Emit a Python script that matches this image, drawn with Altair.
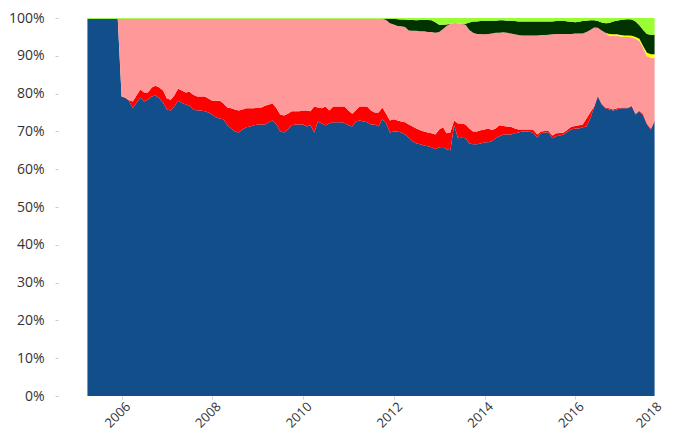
import altair as alt
import pandas as pd

# Monthly dates, April 2005 .. October 2017
months = [d.strftime("%Y-%m-%dT00:00:00") for d in pd.date_range("2005-04-01", "2017-10-01", freq="MS")]

series = ["A", "B", "C", "D", "E", "F"]
colors = ["#124E89", "#FF0000", "#FF9999", "#FFFF00", "#003300", "#99FF33"]

# Cumulative tops (in %)
blue_top = [99.8, 99.8, 99.8, 99.8, 99.8, 99.8, 99.8, 99.8, 99.8,
    79.2, 78.9, 78.1, 76.1, 77.6, 78.9, 77.9, 78.4, 79.2, 79.5,
    78.7, 77.6, 75.8, 75.5, 76.6, 78.1, 77.6, 77.1, 76.8, 75.8,
    75.5, 75.5, 75.3, 75.0, 74.5, 73.7, 73.4, 73.2, 71.6, 70.8,
    70.0, 69.7, 70.5, 71.1, 71.3, 71.6, 71.8, 71.8, 71.8, 72.4,
    72.9, 71.8, 70.0, 69.7, 70.5, 71.6, 71.8, 71.8, 71.8, 71.3,
    71.6, 69.7, 72.6, 72.1, 71.6, 72.1, 72.4, 72.4, 72.4, 72.2,
    71.6, 71.3, 72.6, 72.9, 72.6, 72.4, 71.8, 71.8, 71.3, 73.2,
    72.1, 69.7, 70.0, 70.0, 69.7, 69.2, 68.4, 67.4, 66.8, 66.6,
    66.3, 66.1, 65.8, 65.3, 65.8, 65.9, 65.3, 65.0, 71.6, 68.2,
    68.3, 68.2, 66.8, 66.6, 66.6, 66.8, 67.1, 67.1, 67.4, 68.2,
    68.7, 69.2, 69.2, 69.2, 69.5, 69.7, 70.0, 70.0, 69.9, 69.5,
    68.4, 69.5, 69.7, 69.7, 68.2, 68.7, 68.9, 69.2, 70.0, 70.5,
    70.8, 70.8, 71.1, 71.3, 73.4, 76.3, 79.2, 77.1, 76.1, 75.8,
    75.5, 75.8, 76.1, 76.1, 76.1, 76.6, 74.5, 75.3, 74.2, 71.8,
    70.5, 72.6]

red_top = [99.8, 99.8, 99.8, 99.8, 99.8, 99.8, 99.8, 99.8, 99.8,
    79.2, 78.9, 78.3, 77.9, 79.5, 81.1, 80.3, 80.3, 81.6, 82.1,
    81.6, 80.8, 78.7, 78.4, 79.5, 81.3, 80.8, 80.3, 80.5, 79.7,
    79.2, 79.2, 79.2, 78.7, 78.1, 78.1, 78.1, 77.4, 76.3, 76.1,
    75.8, 75.5, 75.8, 76.1, 76.1, 76.1, 76.3, 76.3, 76.8, 77.1,
    77.4, 76.1, 74.5, 74.2, 74.7, 75.3, 75.3, 75.3, 75.5, 75.5,
    75.3, 76.6, 76.3, 76.1, 76.6, 75.5, 76.6, 76.6, 76.6, 76.6,
    75.5, 74.7, 75.5, 76.6, 76.6, 76.6, 75.5, 75.0, 75.0, 76.3,
    74.7, 72.9, 73.2, 72.9, 72.6, 72.4, 71.8, 71.3, 70.8, 70.3,
    70.0, 69.7, 69.5, 69.2, 70.5, 71.1, 69.5, 69.7, 72.9, 72.1,
    72.1, 71.8, 70.8, 70.0, 70.0, 70.3, 70.5, 70.8, 70.4, 70.8,
    71.6, 71.4, 71.3, 71.2, 70.8, 70.5, 70.5, 70.5, 70.5, 70.3,
    69.2, 70.0, 70.1, 70.1, 68.9, 69.5, 69.6, 69.7, 70.5, 71.2,
    71.4, 71.6, 71.8, 73.4, 75.0, 76.6, 79.5, 77.4, 76.3, 76.1,
    75.8, 76.1, 76.3, 76.3, 76.3, 76.8, 74.7, 75.5, 74.6, 72.1,
    70.8, 72.9]

pink_top = [99.8] * 79 + [
    99.5, 98.6, 98.3, 97.9, 97.8, 97.6, 96.7, 96.6, 96.6, 96.5,
    96.5, 96.3, 96.3, 96.1, 96.3, 97.1, 97.9, 98.5, 98.7, 98.6,
    98.5, 98.2, 96.8, 96.1, 95.8, 95.8, 95.7, 95.8, 95.9, 96.1,
    96.1, 96.2, 96.1, 95.9, 95.7, 95.5, 95.4, 95.4, 95.4, 95.4,
    95.4, 95.5, 95.5, 95.6, 95.7, 95.8, 95.8, 95.8, 95.8, 95.8,
    95.9, 95.9, 95.9, 96.3, 96.8, 97.5, 97.4, 96.7, 96.1, 95.3,
    95.3, 95.3, 95.1, 95.0, 95.0, 94.9, 94.5, 93.9, 92.1, 89.9,
    89.5, 89.5]

yellow_top = pink_top[:138] + [
    95.8, 95.7, 95.7, 95.5, 95.4, 95.4, 95.3, 95.0, 94.5, 92.6,
    90.8, 90.4, 90.4]

dkgreen_top = [99.8] * 79 + [
    99.8, 99.8, 99.8, 99.7, 99.6, 99.6, 99.5, 99.5, 99.4, 99.5,
    99.5, 99.5, 99.4, 98.9, 98.2, 98.2, 98.3, 98.5, 98.7, 98.6,
    98.5, 98.5, 98.8, 99.1, 99.1, 99.2, 99.3, 99.3, 99.3, 99.3,
    99.4, 99.4, 99.3, 99.3, 99.2, 99.1, 99.1, 99.1, 99.1, 99.1,
    99.1, 99.1, 99.1, 99.1, 99.1, 99.2, 99.3, 99.3, 99.1, 99.0,
    98.9, 99.0, 99.2, 99.3, 99.4, 99.4, 99.2, 98.8, 98.6, 98.7,
    99.1, 99.3, 99.5, 99.6, 99.7, 99.6, 99.1, 98.1, 96.8, 95.8,
    95.6, 95.6]

total_top = [100.0] * len(months)

tops = [blue_top, red_top, pink_top, yellow_top, dkgreen_top, total_top]

rows = []
for i, m in enumerate(months):
    prev = 0.0
    for j, name in enumerate(series):
        v = max(round(tops[j][i] - prev, 3), 0.0)
        prev = tops[j][i]
        rows.append({"date": m, "series": name, "order": j, "share": v})
df = pd.DataFrame(rows)

font = "Open Sans"

chart = alt.Chart(df).mark_area(interpolate="linear").encode(
    x=alt.X("date:T",
            scale=alt.Scale(domain=[alt.DateTime(year=2004, month=8, date=7),
                                    alt.DateTime(year=2018, month=1, date=1)]),
            axis=alt.Axis(title=None, format="%Y",
                          values=[alt.DateTime(year=y, month=1, date=1) for y in range(2006, 2019, 2)],
                          labelAngle=315, labelAlign="right", labelBaseline="top",
                          labelFontSize=13,
                          labelOffset={"condition": {"test": "year(datum.value) >= 2018", "value": -11},
                                       "value": 2},
                          domain=False, grid=False, tickColor="#cccccc", tickSize=3,
                          labelPadding=1)),
    y=alt.Y("share:Q", stack="normalize",
            axis=alt.Axis(title=None, format=".0%",
                          values=[0, 0.1, 0.2, 0.3, 0.4, 0.5, 0.6, 0.7, 0.8, 0.9, 1.0],
                          labelFontSize=14,
                          domain=False, grid=False, tickColor="#cccccc", tickSize=3,
                          labelPadding=11)),
    color=alt.Color("series:N", scale=alt.Scale(domain=series, range=colors), legend=None),
    order=alt.Order("order:Q", sort="ascending"),
).properties(
    width=608, height=378,
    autosize=alt.AutoSizeParams(type="none"),
    padding={"left": 50, "top": 10, "right": 0, "bottom": 36},
).configure_view(stroke=None).configure_axis(
    labelFont=font, labelColor="#333333"
)

chart.save("out.html", embed_options={"renderer": "svg", "actions": False})
